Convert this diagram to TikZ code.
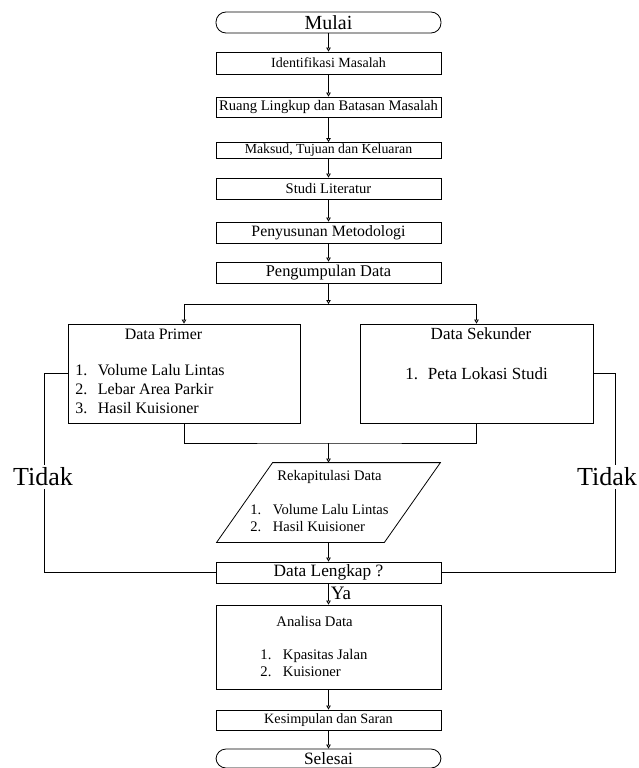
\documentclass[tikz,border=0pt]{standalone}
\usepackage{fontspec}
\setmainfont{Liberation Serif}
\usetikzlibrary{arrows.meta,calc}
\tikzset{
  box/.style={draw,inner sep=0pt,minimum width=225pt},
  term/.style={box,rounded corners=10pt,minimum height=21pt},
  arr/.style={-{Triangle[open,length=4pt,width=4.5pt]}},
  txt/.style={inner sep=0pt},
}
\newcommand{\fsz}[1]{\fontsize{#1}{1.2\dimexpr #1pt\relax}\selectfont}
\newcommand{\litem}[2]{\makebox[22.5pt][l]{#1}#2}

\begin{document}
\begin{tikzpicture}[x=1pt,y=-1pt,line width=0.8pt]
\useasboundingbox (0,0) rectangle (639,768);
\node[term] (mulai) at (328.5,22.5) {\fsz{20}Mulai};
\node[box,minimum height=22pt] (ident) at (328.5,63) {\fsz{14}Identifikasi Masalah};
\node[box,minimum height=20pt] (ruang) at (328.5,107) {\fsz{14.6}Ruang Lingkup dan Batasan Masalah};
\node[box,minimum height=16pt] (maksud) at (328.5,150.5) {\fsz{13.8}Maksud, Tujuan dan Keluaran};
\node[box,minimum height=21pt] (studi) at (328.5,188.5) {\fsz{14.6}Studi Literatur};
\node[box,minimum height=21pt] (susun) at (328.5,232.5) {\fsz{15.8}Penyusunan Metodologi};
\node[box,minimum height=21pt] (kumpul) at (328.5,272.5) {\fsz{16.4}Pengumpulan Data};
\node[box,minimum width=232pt,minimum height=99pt] (primer) at (184,373.5) {};
\node[box,minimum width=233pt,minimum height=99pt] (sekunder) at (476.5,373.5) {};
\node[txt,minimum width=223pt,minimum height=79pt] (rekap) at (328.5,502.5) {};
\node[box,minimum height=21pt] (lengkap) at (328.5,572.5) {\raisebox{2pt}{\fsz{17.3}Data Lengkap ?}};
\node[box,minimum height=84pt] (analisa) at (328.5,647) {};
\node[box,minimum height=20pt] (simpul) at (328.5,720) {\fsz{14.2}Kesimpulan dan Saran};
\node[term,minimum height=19pt] (selesai) at (328.5,758.5) {\fsz{17.3}Selesai};

\node[txt] (primerT) at (163.5,334) {\fsz{15.9}Data Primer};
\node[txt,anchor=west,align=left,font=\fontsize{16}{19}\selectfont] (primerL) at (75,389)
  {\litem{1.}{Volume Lalu Lintas}\\\litem{2.}{Lebar Area Parkir}\\\litem{3.}{Hasil Kuisioner}};
\node[txt] (sekunderT) at (481,334) {\fsz{17}Data Sekunder};
\node[txt,anchor=west,font=\fsz{17}] (sekunderL) at (405,374) {\litem{1.}{Peta Lokasi Studi}};
\node[txt,anchor=west] (rekapT) at (277,477) {\fsz{14.6}Rekapitulasi Data};
\node[txt,anchor=west,align=left,font=\fontsize{14.6}{17}\selectfont] (rekapL) at (250,518.5)
  {\litem{1.}{Volume Lalu Lintas}\\\litem{2.}{Hasil Kuisioner}};
\node[txt,anchor=west] (analisaT) at (276,621) {\fsz{14.7}Analisa Data};
\node[txt,anchor=west,align=left,font=\fontsize{14.7}{17}\selectfont] (analisaL) at (260,662.5)
  {\litem{1.}{Kpasitas Jalan}\\\litem{2.}{Kuisioner}};

\draw ($(rekap.north west)+(56,0)$) -- (rekap.north east)
  -- ($(rekap.south east)-(56,0)$) -- (rekap.south west) -- cycle;

\draw[arr] (mulai) -- (ident);
\draw[arr] (ident) -- (ruang);
\draw[arr] (ruang) -- (maksud);
\draw[arr] (maksud) -- (studi);
\draw[arr] (studi) -- (susun);
\draw[arr] (susun) -- (kumpul);
\coordinate (split) at (328.5,304);
\draw[arr] (kumpul) -- (split);
\draw[arr] (split) -| (primer);
\draw[arr] (split) -| (sekunder);
\coordinate (join) at (328.5,443);
\draw (primer) |- (join) -| (sekunder);
\draw[arr] (join) -- (rekap);
\draw[arr] (rekap) -- (lengkap);
\draw[arr] (lengkap) -- node[txt,right=2pt,pos=0.45] (ya) {\fsz{19}Ya} (analisa);
\draw[arr] (analisa) -- (simpul);
\draw[arr] (simpul) -- (selesai);

\coordinate (loopL) at (44.5,0);
\coordinate (loopR) at (615,0);
\draw (primer.west) -| (loopL |- lengkap.west) -- (lengkap.west);
\draw (sekunder.east) -| (loopR |- lengkap.east) -- (lengkap.east);
\node[txt,fill=white,inner ysep=3pt] (tidakL) at (43,477) {\fsz{26}Tidak};
\node[txt,fill=white,inner ysep=3pt] (tidakR) at (607,477) {\fsz{26}Tidak};
\end{tikzpicture}
\end{document}
